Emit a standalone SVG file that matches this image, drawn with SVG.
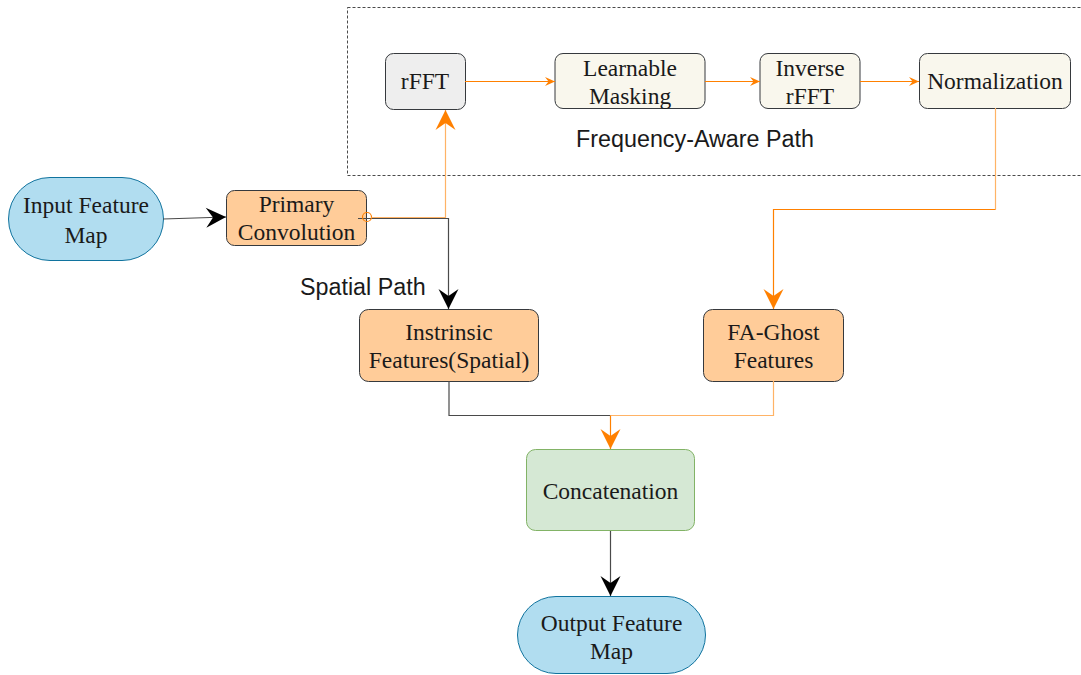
<svg xmlns="http://www.w3.org/2000/svg" width="1081" height="675" viewBox="0 0 1081 675">
  <style>
    .node { font-family: "Liberation Serif", "Times New Roman", serif; font-size: 23.5px; fill: #1a1a1a; text-anchor: middle; }
    .label { font-family: "Liberation Sans", Arial, sans-serif; font-size: 23.3px; fill: #1a1a1a; }
    .term { fill: #b1ddf0; stroke: #10739e; stroke-width: 1; }
    .proc { fill: #ffcc99; stroke: #36393d; stroke-width: 1; }
    .grey { fill: #eeeeee; stroke: #36393d; stroke-width: 1; }
    .cream { fill: #f9f7ed; stroke: #36393d; stroke-width: 1; }
    .green { fill: #d5e8d4; stroke: #82b366; stroke-width: 1; }
  </style>
  <defs>
    <marker id="arrowBlack" markerUnits="userSpaceOnUse" viewBox="-22 -11 24 22" markerWidth="24" markerHeight="22" refX="0" refY="0" orient="auto">
      <path d="M0,0 L-20,-10 L-13,0 L-20,10 Z" fill="#000000"/>
    </marker>
    <marker id="arrowOrange" markerUnits="userSpaceOnUse" viewBox="-22 -11 24 22" markerWidth="24" markerHeight="22" refX="0" refY="0" orient="auto">
      <path d="M0,0 L-20,-10 L-13,0 L-20,10 Z" fill="#ff8000"/>
    </marker>
    <marker id="arrowOrangeSmall" markerUnits="userSpaceOnUse" viewBox="-11 -6 12 12" markerWidth="12" markerHeight="12" refX="0" refY="0" orient="auto">
      <path d="M0,0 L-10,-4.5 L-6.5,0 L-10,4.5 Z" fill="#ff8000"/>
    </marker>
  </defs>

  <rect width="1081" height="675" fill="#ffffff"/>

  <!-- frequency-aware path container -->
  <g id="freq-path-group">
    <rect x="347.5" y="7.5" width="740" height="168" fill="none" stroke="#4a4a4a" stroke-width="1" stroke-dasharray="3 2"/>
    <text class="label" x="695" y="147" text-anchor="middle">Frequency-Aware Path</text>
  </g>

  <g id="input-feature-map">
    <rect class="term" x="8.5" y="177.5" width="155" height="83" rx="41.5"/>
    <text class="node" x="86" y="213">Input Feature</text>
    <text class="node" x="86" y="243">Map</text>
  </g>

  <g id="primary-convolution">
    <rect class="proc" x="226.5" y="190.5" width="140" height="55" rx="8"/>
    <text class="node" x="296.5" y="212">Primary</text>
    <text class="node" x="296.5" y="240">Convolution</text>
  </g>

  <g id="rfft">
    <rect class="grey" x="385.5" y="53.5" width="80" height="56" rx="8"/>
    <text class="node" x="425" y="89">rFFT</text>
  </g>

  <g id="learnable-masking">
    <rect class="cream" x="555" y="53.5" width="150" height="55" rx="8"/>
    <text class="node" x="630" y="76">Learnable</text>
    <text class="node" x="630" y="104">Masking</text>
  </g>

  <g id="inverse-rfft">
    <rect class="cream" x="760" y="53.5" width="100" height="55" rx="8"/>
    <text class="node" x="810" y="76">Inverse</text>
    <text class="node" x="810" y="104">rFFT</text>
  </g>

  <g id="normalization">
    <rect class="cream" x="919.5" y="53.5" width="151" height="55" rx="8"/>
    <text class="node" x="995" y="89">Normalization</text>
  </g>

  <g id="spatial-path-label">
    <text class="label" x="300" y="295">Spatial Path</text>
  </g>

  <g id="intrinsic-features">
    <rect class="proc" x="359.5" y="309.5" width="179" height="72" rx="9"/>
    <text class="node" x="449" y="340">Instrinsic</text>
    <text class="node" x="449" y="368">Features(Spatial)</text>
  </g>

  <g id="fa-ghost-features">
    <rect class="proc" x="703.5" y="309.5" width="140" height="72" rx="9"/>
    <text class="node" x="773.5" y="340">FA-Ghost</text>
    <text class="node" x="773.5" y="368">Features</text>
  </g>

  <g id="concatenation">
    <rect class="green" x="526.5" y="449.5" width="168" height="81" rx="9"/>
    <text class="node" x="610.5" y="499">Concatenation</text>
  </g>

  <g id="output-feature-map">
    <rect class="term" x="517.5" y="596.5" width="188" height="77" rx="38.5"/>
    <text class="node" x="611.5" y="631">Output Feature</text>
    <text class="node" x="611.5" y="659">Map</text>
  </g>

  <!-- connectors, drawn over the nodes -->
  <g id="connectors" fill="none" stroke-width="1.2">
    <path d="M163,219 L226,217" stroke="#4a4a4a" marker-end="url(#arrowBlack)"/>
    <path d="M358,218.5 L448.5,218.5 L448.5,309" stroke="#4a4a4a" marker-end="url(#arrowBlack)"/>
    <circle cx="367" cy="217" r="4.5" stroke="#ff8000"/>
    <path d="M371.5,217.5 L445.5,217.5 L445.5,110" stroke="#ffb366" marker-end="url(#arrowOrange)"/>
    <path d="M465,81.5 L555,81.5" stroke="#ff8000" marker-end="url(#arrowOrangeSmall)"/>
    <path d="M705,81.5 L760,81.5" stroke="#ff8000" marker-end="url(#arrowOrangeSmall)"/>
    <path d="M860,81.5 L919,81.5" stroke="#ff8000" marker-end="url(#arrowOrangeSmall)"/>
    <path d="M995.5,108 L995.5,209.5" stroke="#ffb366"/>
    <path d="M995.5,209.5 L773.5,209.5 L773.5,309" stroke="#ff8000" marker-end="url(#arrowOrange)"/>
    <path d="M449,381 L449,415.5 L610.5,415.5" stroke="#4a4a4a"/>
    <path d="M773.5,381 L773.5,415.5 L610.5,415.5" stroke="#ffb366"/>
    <path d="M610.5,415.5 L610.5,449" stroke="#ff8000" marker-end="url(#arrowOrange)"/>
    <path d="M610.5,531 L610.5,596" stroke="#4a4a4a" marker-end="url(#arrowBlack)"/>
  </g>
</svg>
